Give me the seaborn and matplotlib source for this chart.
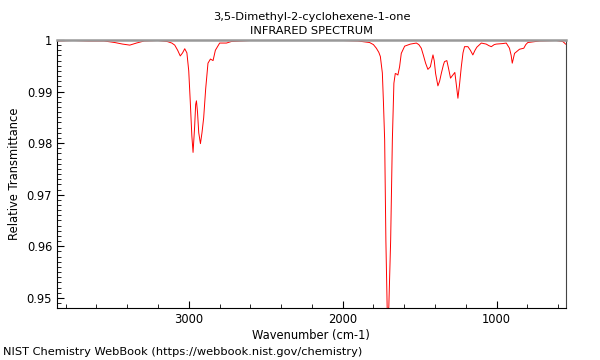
import pandas as pd
import matplotlib
matplotlib.use('Agg')
import matplotlib.pyplot as plt
import seaborn as sns
from matplotlib.ticker import MultipleLocator, FuncFormatter

# Spectrum (wavenumber in cm-1, relative transmittance)
wavenumber = [3856, 3750, 3650, 3550, 3480, 3430, 3383, 3340, 3290, 3200,
              3140, 3110, 3091, 3072, 3055, 3040, 3026, 3012, 3000, 2990,
              2980, 2972, 2962, 2955, 2950, 2943, 2935, 2924, 2914, 2903,
              2890, 2875, 2859, 2842, 2827, 2799, 2755, 2723, 2600, 2400,
              2200, 2000, 1900, 1825, 1800, 1781, 1765, 1755, 1742, 1735,
              1727, 1719, 1710, 1700, 1688, 1677, 1667, 1658, 1650, 1641,
              1630, 1619, 1597, 1560, 1521, 1505, 1489, 1475, 1461, 1446,
              1430, 1420, 1413, 1405, 1396, 1381, 1370, 1359, 1345, 1338,
              1323, 1312, 1299, 1284, 1271, 1262, 1251, 1240, 1229, 1218,
              1208, 1186, 1170, 1154, 1140, 1128, 1099, 1067, 1050, 1034,
              1015, 1002, 960, 937, 916, 905, 898, 890, 883, 851,
              823, 810, 797, 721, 612, 570, 558, 552]
transmittance = [0.9998, 0.9999, 0.9998, 0.9998, 0.9995, 0.9992, 0.9990, 0.9994, 0.9998, 0.9999,
                 0.9997, 0.9994, 0.9990, 0.9980, 0.9969, 0.9975, 0.9983, 0.9975, 0.9940, 0.9880,
                 0.9815, 0.9782, 0.9830, 0.9875, 0.9882, 0.9860, 0.9820, 0.9799, 0.9820, 0.9849,
                 0.9905, 0.9955, 0.9963, 0.9960, 0.9980, 0.9994, 0.9994, 0.9997, 0.9999, 0.9999,
                 1.0000, 0.9999, 0.9998, 0.9995, 0.9991, 0.9984, 0.9976, 0.9968, 0.9936, 0.9880,
                 0.9806, 0.9610, 0.9470, 0.9482, 0.9612, 0.9806, 0.9916, 0.9935, 0.9934, 0.9932,
                 0.9948, 0.9974, 0.9988, 0.9992, 0.9994, 0.9991, 0.9984, 0.9970, 0.9955, 0.9943,
                 0.9948, 0.9962, 0.9971, 0.9960, 0.9935, 0.9911, 0.9920, 0.9935, 0.9952, 0.9958,
                 0.9960, 0.9945, 0.9926, 0.9932, 0.9937, 0.9915, 0.9887, 0.9915, 0.9948, 0.9975,
                 0.9987, 0.9987, 0.9980, 0.9971, 0.9980, 0.9986, 0.9994, 0.9992, 0.9989, 0.9987,
                 0.9991, 0.9992, 0.9993, 0.9994, 0.9984, 0.9970, 0.9955, 0.9965, 0.9974, 0.9982,
                 0.9984, 0.9991, 0.9995, 0.9998, 0.9999, 0.9997, 0.9994, 0.9992]

df = pd.DataFrame({'wavenumber': wavenumber, 'transmittance': transmittance})

fig = plt.figure(figsize=(6, 3.6), dpi=100)
ax = fig.add_axes([0.095, 0.144, 0.848, 0.745])

sns.lineplot(data=df, x='wavenumber', y='transmittance', ax=ax,
             color='red', linewidth=0.7)

ax.set_xlim(3856, 550)
ax.set_ylim(0.948, 1.0)

ax.xaxis.set_major_locator(MultipleLocator(1000))
ax.xaxis.set_minor_locator(MultipleLocator(200))
ax.yaxis.set_major_locator(MultipleLocator(0.01))
ax.yaxis.set_minor_locator(MultipleLocator(0.001))
ax.yaxis.set_major_formatter(FuncFormatter(lambda v, p: f'{v:g}'))
ax.tick_params(which='both', direction='in', labelsize=8.3, top=False, right=False)
ax.tick_params(which='major', length=5)
ax.tick_params(which='minor', length=3)

ax.spines['top'].set_color('#999999')
ax.spines['top'].set_linewidth(1.8)
ax.spines['right'].set_color('#444444')

ax.set_xlabel('Wavenumber (cm-1)', fontsize=8.3, labelpad=2)
ax.set_ylabel('Relative Transmittance', fontsize=8.3)
ax.set_title('3,5-Dimethyl-2-cyclohexene-1-one\nINFRARED SPECTRUM', fontsize=8.2,
             pad=4, linespacing=1.6)

fig.text(0.005, 0.015, 'NIST Chemistry WebBook (https://webbook.nist.gov/chemistry)', fontsize=8.2)

fig.savefig('out.png', dpi=100)
